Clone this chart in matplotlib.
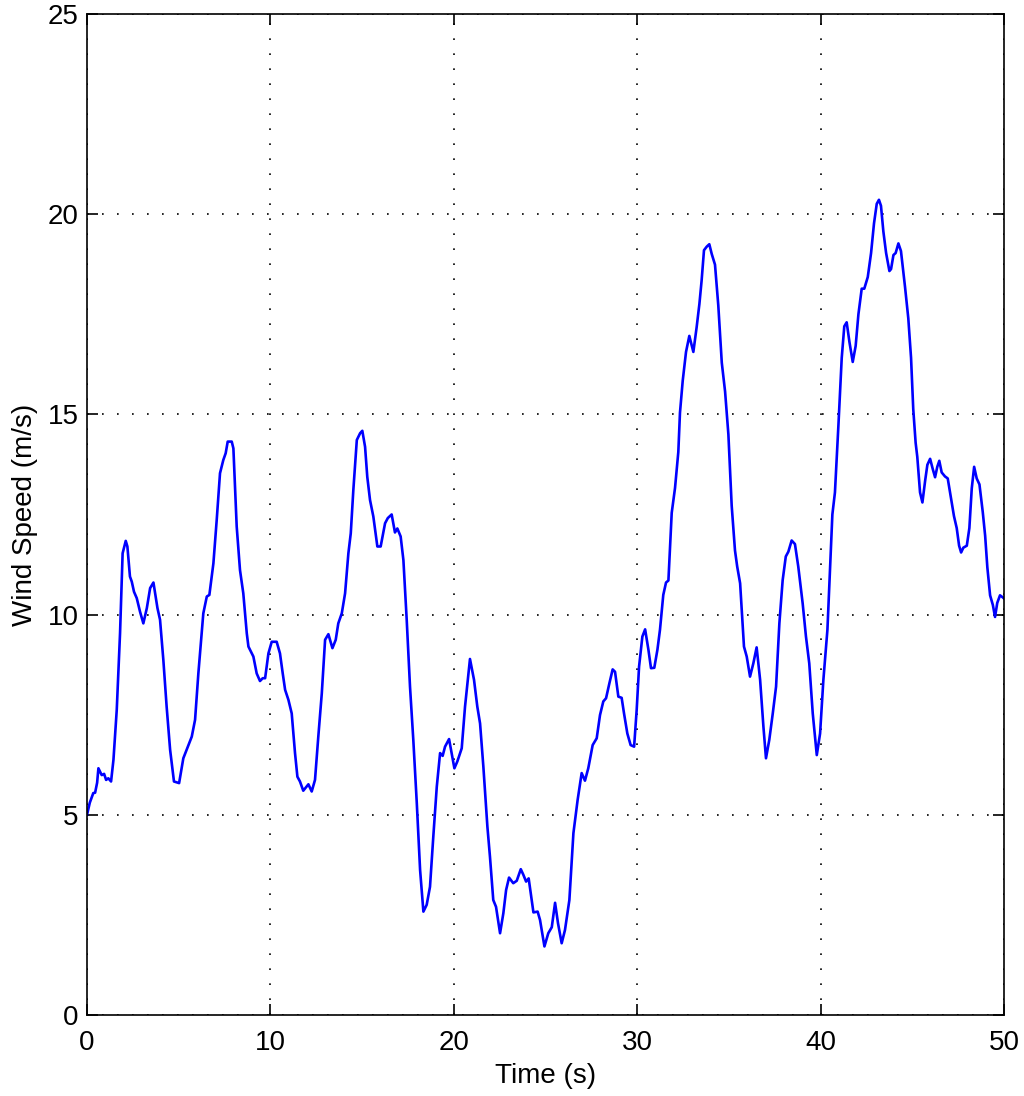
"""
Wind speed time series.
"""

import matplotlib
matplotlib.use("Agg")
import matplotlib.pyplot as plt

time_s = [
    0.00, 0.15, 0.34, 0.44, 0.55, 0.62, 0.80, 0.93, 1.04, 1.16,
    1.31, 1.44, 1.62, 1.80, 1.94, 2.11, 2.20, 2.34, 2.44, 2.56,
    2.71, 2.89, 3.07, 3.26, 3.44, 3.62, 3.84, 3.98, 4.16, 4.34,
    4.53, 4.74, 5.02, 5.25, 5.43, 5.71, 5.89, 6.07, 6.34, 6.53,
    6.67, 6.89, 7.07, 7.25, 7.43, 7.56, 7.67, 7.89, 7.98, 8.16,
    8.34, 8.52, 8.71, 8.80, 9.07, 9.25, 9.43, 9.58, 9.71, 9.89,
    10.07, 10.34, 10.52, 10.67, 10.80, 10.98, 11.16, 11.34, 11.47, 11.61,
    11.79, 12.07, 12.25, 12.43, 12.61, 12.80, 12.98, 13.16, 13.38, 13.56,
    13.70, 13.89, 14.07, 14.25, 14.38, 14.52, 14.71, 14.89, 15.01, 15.16,
    15.28, 15.43, 15.61, 15.83, 16.01, 16.25, 16.40, 16.61, 16.79, 16.92,
    17.10, 17.25, 17.43, 17.61, 17.79, 17.98, 18.16, 18.34, 18.52, 18.70,
    18.88, 19.07, 19.25, 19.39, 19.52, 19.74, 19.88, 20.03, 20.19, 20.43,
    20.61, 20.88, 21.10, 21.28, 21.43, 21.61, 21.83, 21.97, 22.15, 22.30,
    22.52, 22.70, 22.85, 23.01, 23.24, 23.43, 23.65, 23.79, 23.94, 24.08,
    24.34, 24.57, 24.70, 24.94, 25.15, 25.34, 25.52, 25.68, 25.88, 26.06,
    26.30, 26.52, 26.75, 26.97, 27.15, 27.33, 27.57, 27.79, 27.97, 28.15,
    28.30, 28.48, 28.66, 28.79, 28.97, 29.15, 29.28, 29.46, 29.64, 29.83,
    29.97, 30.10, 30.28, 30.43, 30.61, 30.75, 30.93, 31.10, 31.24, 31.42,
    31.57, 31.70, 31.88, 32.06, 32.24, 32.33, 32.48, 32.66, 32.84, 33.06,
    33.24, 33.39, 33.51, 33.64, 33.79, 33.93, 34.06, 34.24, 34.42, 34.61,
    34.79, 34.97, 35.15, 35.33, 35.45, 35.61, 35.82, 35.97, 36.15, 36.33,
    36.51, 36.70, 36.88, 37.02, 37.20, 37.39, 37.57, 37.75, 37.93, 38.10,
    38.24, 38.42, 38.60, 38.78, 39.02, 39.20, 39.38, 39.57, 39.79, 39.97,
    40.15, 40.37, 40.51, 40.64, 40.78, 40.97, 41.15, 41.29, 41.42, 41.57,
    41.75, 41.91, 42.06, 42.24, 42.38, 42.57, 42.75, 42.91, 43.06, 43.18,
    43.29, 43.42, 43.57, 43.75, 43.84, 43.97, 44.09, 44.24, 44.38, 44.60,
    44.78, 44.93, 45.05, 45.18, 45.27, 45.42, 45.55, 45.70, 45.82, 45.97,
    46.11, 46.24, 46.36, 46.47, 46.60, 46.78, 46.93, 47.09, 47.27, 47.42,
    47.55, 47.66, 47.78, 47.97, 48.11, 48.24, 48.37, 48.51, 48.66, 48.84,
    48.97, 49.09, 49.24, 49.39, 49.51, 49.63, 49.78, 49.93, 50.00,
]

wind_speed = [
    5.00, 5.30, 5.54, 5.55, 5.80, 6.16, 5.99, 6.02, 5.87, 5.91,
    5.83, 6.37, 7.62, 9.54, 11.53, 11.84, 11.70, 10.95, 10.82, 10.57,
    10.41, 10.07, 9.78, 10.16, 10.66, 10.80, 10.16, 9.87, 8.87, 7.70,
    6.62, 5.83, 5.79, 6.41, 6.62, 6.95, 7.37, 8.53, 10.03, 10.45,
    10.49, 11.28, 12.36, 13.53, 13.86, 14.03, 14.32, 14.32, 14.15, 12.20,
    11.11, 10.53, 9.53, 9.20, 8.95, 8.53, 8.34, 8.41, 8.41, 9.03,
    9.32, 9.32, 9.03, 8.53, 8.12, 7.87, 7.53, 6.54, 5.95, 5.83,
    5.60, 5.76, 5.58, 5.87, 6.95, 8.03, 9.37, 9.51, 9.16, 9.37,
    9.78, 10.03, 10.53, 11.53, 12.03, 13.11, 14.36, 14.53, 14.59, 14.19,
    13.44, 12.86, 12.45, 11.70, 11.70, 12.28, 12.41, 12.50, 12.05, 12.15,
    11.95, 11.36, 9.87, 8.20, 6.87, 5.29, 3.62, 2.58, 2.75, 3.20,
    4.45, 5.70, 6.54, 6.47, 6.70, 6.89, 6.54, 6.16, 6.33, 6.66,
    7.70, 8.89, 8.37, 7.70, 7.28, 6.20, 4.70, 3.95, 2.87, 2.70,
    2.04, 2.54, 3.12, 3.43, 3.29, 3.35, 3.64, 3.50, 3.33, 3.41,
    2.56, 2.58, 2.37, 1.71, 2.04, 2.19, 2.80, 2.29, 1.79, 2.12,
    2.87, 4.54, 5.37, 6.04, 5.85, 6.16, 6.74, 6.91, 7.49, 7.83,
    7.91, 8.28, 8.63, 8.57, 7.95, 7.92, 7.53, 7.03, 6.74, 6.70,
    7.62, 8.70, 9.45, 9.63, 9.12, 8.66, 8.67, 9.12, 9.62, 10.49,
    10.80, 10.85, 12.54, 13.16, 14.06, 15.04, 15.84, 16.56, 16.96, 16.56,
    17.18, 17.76, 18.34, 19.10, 19.19, 19.25, 19.01, 18.74, 17.72, 16.29,
    15.57, 14.50, 12.72, 11.60, 11.20, 10.78, 9.20, 8.95, 8.45, 8.78,
    9.18, 8.37, 7.20, 6.41, 6.87, 7.53, 8.20, 9.78, 10.86, 11.45,
    11.57, 11.85, 11.76, 11.20, 10.28, 9.45, 8.78, 7.53, 6.49, 7.03,
    8.37, 9.62, 11.11, 12.50, 13.05, 14.73, 16.41, 17.20, 17.30, 16.81,
    16.31, 16.71, 17.50, 18.14, 18.14, 18.43, 19.03, 19.77, 20.26, 20.36,
    20.21, 19.57, 19.03, 18.58, 18.63, 18.98, 19.03, 19.27, 19.08, 18.19,
    17.40, 16.41, 15.13, 14.29, 13.94, 13.05, 12.80, 13.35, 13.74, 13.89,
    13.64, 13.43, 13.69, 13.84, 13.55, 13.45, 13.40, 12.96, 12.46, 12.16,
    11.72, 11.55, 11.67, 11.72, 12.16, 13.15, 13.69, 13.40, 13.25, 12.56,
    11.97, 11.18, 10.48, 10.24, 9.94, 10.29, 10.48, 10.43, 10.40,
]

x_ticks = [0, 10, 20, 30, 40, 50]
y_ticks = [0, 5, 10, 15, 20, 25]

plt.rcParams["font.family"] = ["Liberation Sans", "DejaVu Sans"]

fig = plt.figure(figsize=(10.24, 10.96), dpi=100)
ax = fig.add_axes([0.085, 0.074, 0.8955, 0.9132])

ax.plot(
    time_s,
    wind_speed,
    color="#0000ff",
    linewidth=1.9,
    solid_joinstyle="round"
)

ax.set_xlim(0, 50)
ax.set_ylim(0, 25)
ax.set_xticks(x_ticks)
ax.set_yticks(y_ticks)

ax.grid(
    True,
    color="black",
    linestyle=(0, (1, 8)),
    linewidth=1.2
)

ax.tick_params(
    direction="in",
    length=8,
    width=1.2,
    top=True,
    right=True,
    labelsize=20,
    pad=6
)
ax.tick_params(axis="x", pad=11)

for spine in ax.spines.values():
    spine.set_linewidth(1.2)

ax.set_xlabel("Time (s)", fontsize=20, labelpad=5)
ax.set_ylabel("Wind Speed (m/s)", fontsize=20, labelpad=7)

fig.savefig("out.png", dpi=100)
plt.close(fig)
